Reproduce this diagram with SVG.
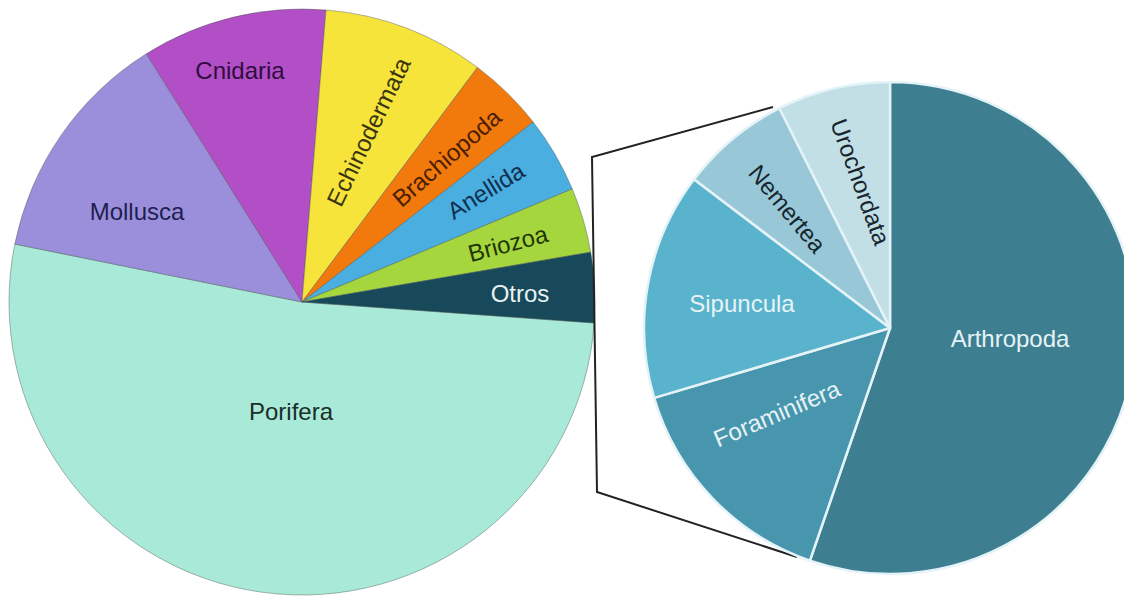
<svg xmlns="http://www.w3.org/2000/svg" width="1124" height="599" viewBox="0 0 1124 599">
<style>
  .lbl { font-family: "Liberation Sans", Arial, sans-serif; font-size: 24px; text-anchor: middle; }
  .main path { stroke: #4a5a56; stroke-width: 0.8; stroke-opacity: 0.55; stroke-linejoin: round; }
  .zoom path { stroke: #e4f3f7; stroke-width: 2.5; stroke-linejoin: round; }
  .conn { fill: none; stroke: #222; stroke-width: 2; stroke-linejoin: miter; }
</style>
<rect width="1124" height="599" fill="#ffffff"/>

<g id="main-pie" class="main">
  <g id="porifera">
    <path d="M302,302 L594.25,322.95 A293,293 0 1 1 14.78,244.09 Z" fill="#a8e9d7"/>
    <text class="lbl" x="291" y="420" fill="#1b2e2a">Porifera</text>
  </g>
  <g id="mollusca">
    <path d="M302,302 L14.78,244.09 A293,293 0 0 1 146.30,53.79 Z" fill="#9b8fdc"/>
    <text class="lbl" x="137" y="220" fill="#1e1f4f">Mollusca</text>
  </g>
  <g id="cnidaria">
    <path d="M302,302 L146.30,53.79 A293,293 0 0 1 326.01,9.98 Z" fill="#b34fc6"/>
    <text class="lbl" x="240" y="79" fill="#2f0c40">Cnidaria</text>
  </g>
  <g id="echinodermata">
    <path d="M302,302 L326.01,9.98 A293,293 0 0 1 477.51,67.39 Z" fill="#f6e43a"/>
    <text class="lbl" transform="translate(369,132) rotate(-64.2)" x="0" y="8" fill="#3a3510">Echinodermata</text>
  </g>
  <g id="brachiopoda">
    <path d="M302,302 L477.51,67.39 A293,293 0 0 1 533.20,122.01 Z" fill="#f27a0c"/>
    <text class="lbl" transform="translate(447,158) rotate(-41)" x="0" y="8" fill="#4a1f05">Brachiopoda</text>
  </g>
  <g id="anellida">
    <path d="M302,302 L533.20,122.01 A293,293 0 0 1 572.30,188.93 Z" fill="#4aaee0"/>
    <text class="lbl" transform="translate(486,191) rotate(-31.6)" x="0" y="8" fill="#10304f">Anellida</text>
  </g>
  <g id="briozoa">
    <path d="M302,302 L572.30,188.93 A293,293 0 0 1 590.72,252.13 Z" fill="#a6d63e"/>
    <text class="lbl" transform="translate(508,244) rotate(-14.8)" x="0" y="8" fill="#1f3505">Briozoa</text>
  </g>
  <g id="otros">
    <path d="M302,302 L590.72,252.13 A293,293 0 0 1 594.25,322.95 Z" fill="#17495a"/>
    <text class="lbl" x="520" y="302" fill="#e8f2f2">Otros</text>
  </g>
</g>

<g id="connectors">
  <polyline class="conn" points="773,107 592,157 597,492 797,557"/>
</g>

<g id="detail-pie" class="zoom">
  <g id="arthropoda">
    <path d="M890,328 L890,82 A246,246 0 1 1 809.91,560.60 Z" fill="#3d7f90"/>
    <text class="lbl" x="1010" y="347" fill="#e6f3f6">Arthropoda</text>
  </g>
  <g id="foraminifera">
    <path d="M890,328 L809.91,560.60 A246,246 0 0 1 654.13,397.87 Z" fill="#4896ae"/>
    <text class="lbl" transform="translate(777,414) rotate(-23)" x="0" y="8" fill="#e6f3f6">Foraminifera</text>
  </g>
  <g id="sipuncula">
    <path d="M890,328 L654.13,397.87 A246,246 0 0 1 694.05,179.27 Z" fill="#59b3cc"/>
    <text class="lbl" x="742" y="312" fill="#e6f3f6">Sipuncula</text>
  </g>
  <g id="nemertea">
    <path d="M890,328 L694.05,179.27 A246,246 0 0 1 779.47,108.23 Z" fill="#98c8d8"/>
    <text class="lbl" transform="translate(787,209) rotate(50.3)" x="0" y="8" fill="#17262e">Nemertea</text>
  </g>
  <g id="urochordata">
    <path d="M890,328 L779.47,108.23 A246,246 0 0 1 890,82 Z" fill="#c2dfe6"/>
    <text class="lbl" transform="translate(860,182) rotate(70)" x="0" y="8" fill="#17262e">Urochordata</text>
  </g>
</g>
</svg>
